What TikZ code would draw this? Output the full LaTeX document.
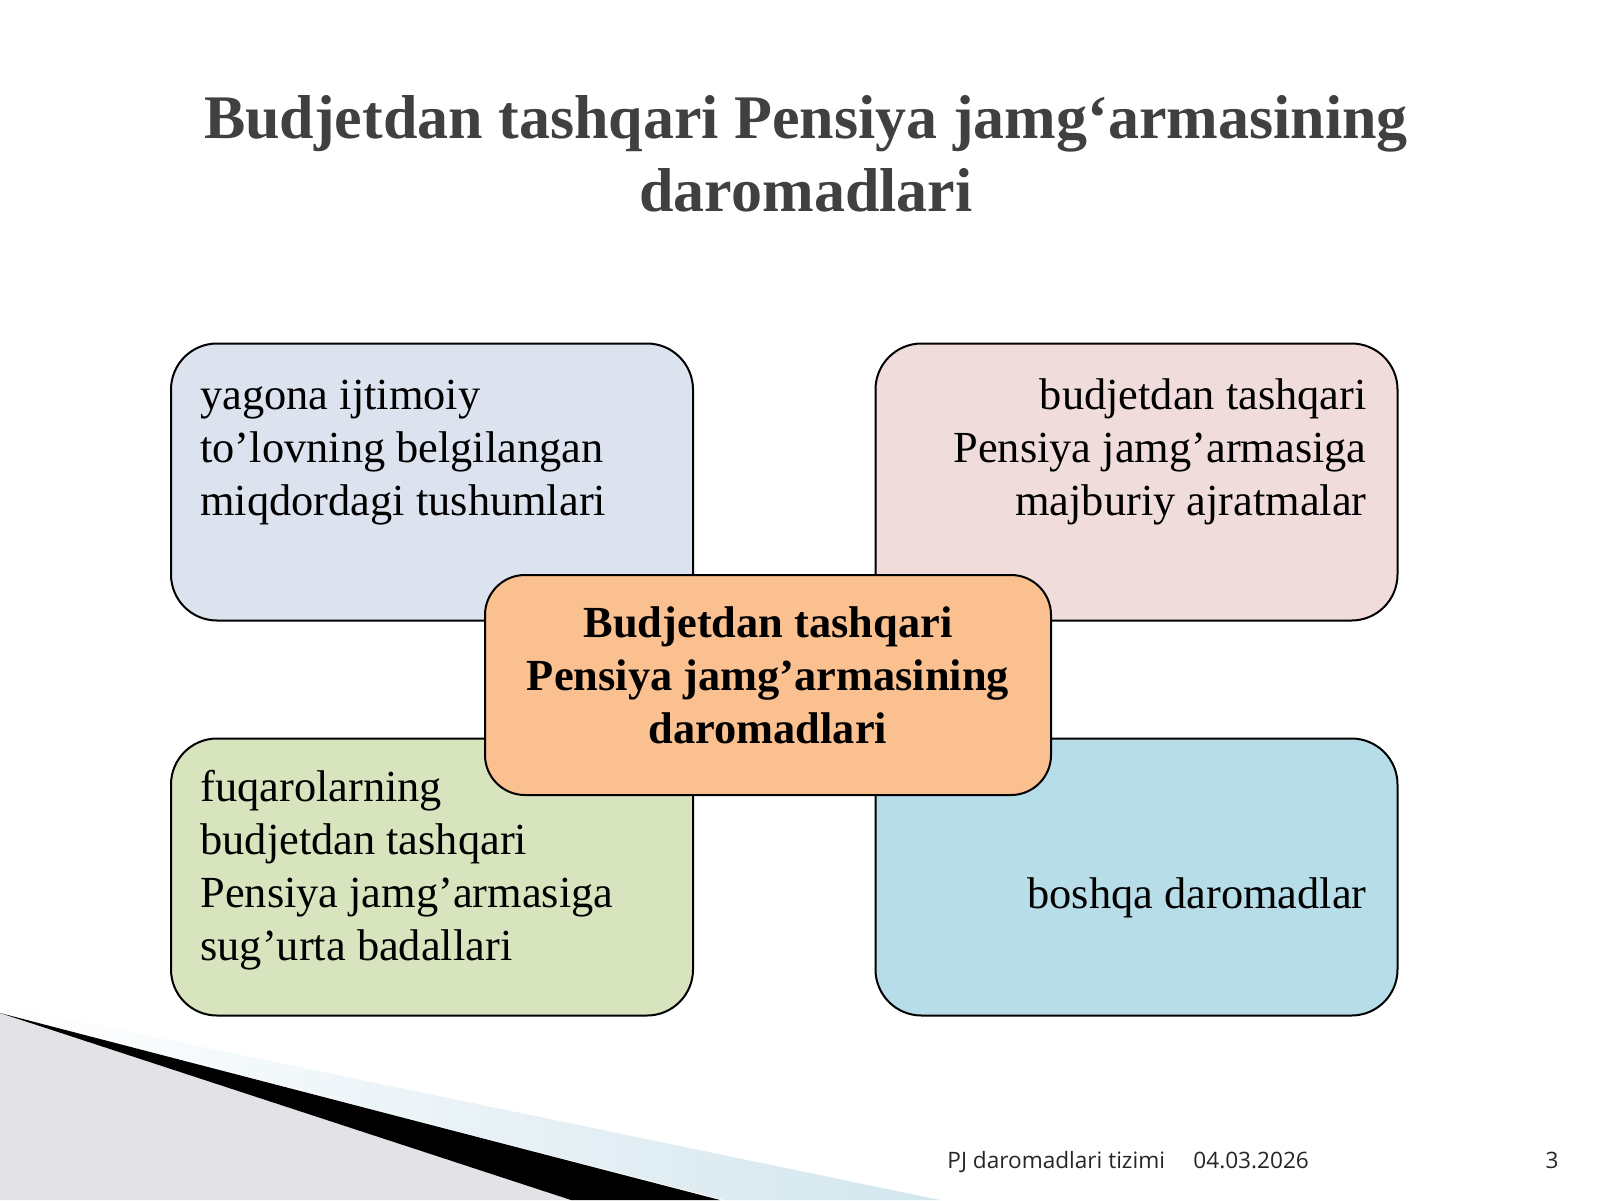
\documentclass[tikz,border=0pt]{standalone}
\usepackage{fontspec}
\setmainfont{Liberation Serif}
\newfontfamily\footfont{Open Sans}
\usetikzlibrary{positioning}

\definecolor{titlegray}{HTML}{404040}
\definecolor{tlblue}{HTML}{DCE3EF}
\definecolor{trpink}{HTML}{F1DCDC}
\definecolor{blgreen}{HTML}{D7E4BD}
\definecolor{brblue}{HTML}{B7DDE8}
\definecolor{centreorange}{HTML}{FAC090}
\definecolor{wedgegray}{HTML}{E3E2E7}
\definecolor{stripeblue}{HTML}{D3E6EE}

\begin{document}
\begin{tikzpicture}[x=0.5pt, y=-0.5pt,
  quad/.style={draw=black, line width=1pt, rounded corners=23pt, minimum width=261pt, minimum height=138.5pt, inner sep=0pt},
  quadtext/.style={font=\fontsize{22.2}{26.5}\selectfont, inner sep=0pt},
  foottext/.style={font=\footfont\fontsize{11.3}{14}\selectfont, text=black!85, inner sep=0pt}]
\useasboundingbox (0,0) rectangle (1600,1200);
\fill[white] (0,0) rectangle (1600,1200);
\shade[left color=white, right color=stripeblue] (0,1005) -- (940,1200) -- (724,1200) -- (0,1013) -- cycle;
\fill[wedgegray] (0,1013) -- (571,1200) -- (0,1200) -- cycle;
\fill[black] (0,1013) -- (720,1200) -- (571,1200) -- cycle;
\node[anchor=base, align=center, text=titlegray, inner sep=0pt, font=\bfseries\fontsize{31}{36.5}\selectfont] (title) at (806,211) {Budjetdan tashqari Pensiya jamg‘armasining\\daromadlari};
\node[quad, fill=tlblue] (yagona) at (432,482) {};
\node[quad, fill=trpink] (majburiy) at (1136.5,482) {};
\node[quad, fill=blgreen] (sugurta) at (432,877) {};
\node[quad, fill=brblue] (boshqa) at (1136.5,877) {};
\node[quad, fill=centreorange, minimum width=283pt, minimum height=110pt, rounded corners=20pt] (markaz) at (768,685) {};
\node[quadtext, anchor=base west, align=left] (yagonatxt) at (200,515) {yagona ijtimoiy\\to’lovning belgilangan\\miqdordagi tushumlari};
\node[quadtext, anchor=base east, align=right] (majburiytxt) at (1367,515) {budjetdan tashqari\\Pensiya jamg’armasiga\\majburiy ajratmalar};
\node[quadtext, anchor=base west, align=left] (sugurtatxt) at (200,960) {fuqarolarning\\budjetdan tashqari\\Pensiya jamg’armasiga\\sug’urta badallari};
\node[quadtext, anchor=base east] (boshqatxt) at (1367,908) {boshqa daromadlar};
\node[quadtext, anchor=base, align=center, font=\bfseries\fontsize{22.2}{26.5}\selectfont] (markaztxt) at (768,743) {Budjetdan tashqari\\Pensiya jamg’armasining\\daromadlari};
\node[foottext, anchor=base west] (pj) at (947,1168) {PJ daromadlari tizimi};
\node[foottext, anchor=base west] (sana) at (1193,1168) {04.03.2026};
\node[foottext, anchor=base east] (bet) at (1559,1168) {3};
\end{tikzpicture}
\end{document}
